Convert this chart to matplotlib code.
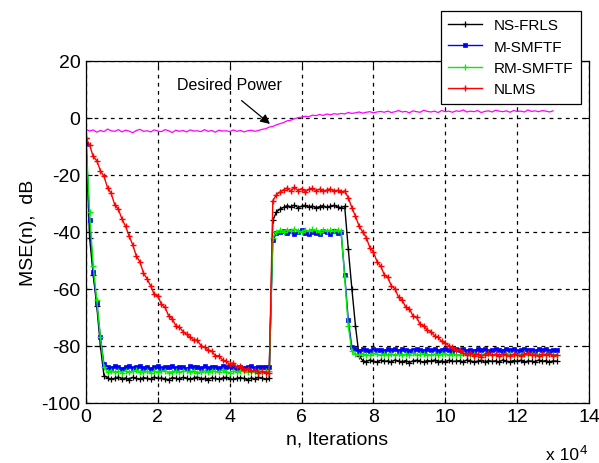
import numpy as np
import matplotlib
matplotlib.use("Agg")
import matplotlib.pyplot as plt
from matplotlib.lines import Line2D

plt.rcParams['font.family'] = ['Liberation Sans', 'DejaVu Sans']

# iterations (samples every 1000)
step = 1000

ns_frls = [-7, -42, -55, -66, -80, -90.5,
    -91.2, -91.8, -91.4, -91.0, -91.6, -91.3, -91.9, -91.1, -91.5, -91.7,
    -91.2, -91.4, -91.8, -91.0, -91.5, -91.3, -91.6, -91.9, -91.2, -91.4,
    -91.7, -91.1, -91.5, -91.8, -91.3, -91.0, -91.6, -91.4, -91.9, -91.2,
    -91.5, -91.7, -91.3, -91.1, -91.6, -91.8, -91.4, -91.2, -91.5, -91.9,
    -91.3, -91.6, -91.1, -91.4, -91.7, -91.5,
    -36, -33, -32,
    -31.4, -30.8, -31.2, -30.6, -31.5, -31.0, -30.7, -31.3, -30.9, -31.6,
    -31.1, -30.8, -31.4, -31.0, -30.7, -31.2, -31.5, -31.0,
    -46, -60, -73, -83.5,
    -85.2, -85.6, -85.0, -85.4, -85.8, -85.1, -85.5, -85.3, -85.7, -85.0,
    -85.4, -85.6, -85.2, -85.9, -85.3, -85.1, -85.5, -85.7, -85.2, -85.4,
    -85.0, -85.6, -85.3, -85.8, -85.1, -85.5, -85.4, -85.2, -85.7, -85.0,
    -85.3, -85.6, -85.4, -85.1, -85.8, -85.2, -85.5, -85.3, -85.7, -85.0,
    -85.4, -85.6, -85.2, -85.5, -85.1, -85.8, -85.3, -85.4, -85.6, -85.0,
    -85.5, -85.2, -85.7, -85.3, -85.4]

m_smftf = [-9, -36, -54, -65, -77, -86.5,
    -87.3, -87.9, -87.1, -87.6, -88.0, -87.4, -87.2, -87.8, -87.5, -87.0,
    -87.7, -87.3, -88.1, -87.5, -87.2, -87.9, -87.4, -87.6, -87.1, -87.8,
    -87.3, -87.5, -88.0, -87.2, -87.6, -87.4, -87.9, -87.1, -87.7, -87.3,
    -87.5, -87.8, -87.2, -87.6, -87.0, -87.4, -87.9, -87.3, -87.7, -87.5,
    -87.2, -87.8, -87.4, -87.6, -87.3, -87.5,
    -43, -40.5,
    -40.2, -39.6, -40.5, -39.8, -40.9, -40.1, -39.5, -40.4, -40.8, -39.9,
    -40.3, -40.7, -39.7, -40.2, -40.6, -39.8, -40.4, -40.1,
    -55, -71, -80.5,
    -81.3, -81.7, -81.1, -81.5, -81.9, -81.2, -81.6, -81.4, -81.8, -81.0,
    -81.5, -81.3, -81.7, -81.2, -81.6, -81.9, -81.4, -81.1, -81.5, -81.8,
    -81.3, -81.6, -81.2, -81.7, -81.4, -81.0, -81.5, -81.8, -81.3, -81.6,
    -81.2, -81.9, -81.4, -81.7, -81.1, -81.5, -81.3, -81.8, -81.6, -81.2,
    -81.4, -81.7, -81.0, -81.5, -81.3, -81.9, -81.6, -81.2, -81.5, -81.4,
    -81.8, -81.1, -81.6, -81.3, -81.7, -81.5, -81.4]

rm_smftf = [-7, -33, -52, -64, -77, -87.5,
    -89.1, -88.7, -89.3, -88.9, -89.4, -88.8, -89.2, -89.0, -88.6, -89.3,
    -89.1, -88.9, -89.5, -88.8, -89.2, -89.0, -88.7, -89.4, -89.1, -88.9,
    -89.3, -88.8, -89.0, -89.2, -88.7, -89.4, -89.1, -88.9, -89.3, -88.8,
    -89.0, -89.2, -88.6, -89.1, -89.4, -88.9, -89.2, -88.8, -89.0, -89.3,
    -88.9, -89.1, -88.7, -89.2, -89.0, -88.9,
    -42, -40,
    -39.4, -39.9, -39.2, -39.7, -39.0, -39.6, -40.0, -39.3, -39.8, -39.1,
    -39.5, -39.9, -39.2, -39.6, -39.4, -39.8, -39.3, -39.7,
    -56, -73, -82,
    -82.9, -83.2, -82.8, -83.1, -83.4, -82.7, -83.0, -83.3, -82.9, -83.1,
    -82.8, -83.2, -83.0, -83.4, -82.9, -83.1, -82.7, -83.3, -83.0, -82.8,
    -83.2, -83.1, -82.9, -83.4, -83.0, -82.8, -83.2, -82.9, -83.3, -83.1,
    -82.7, -83.0, -83.2, -82.9, -83.4, -83.1, -82.8, -83.0, -83.3, -82.9,
    -83.1, -83.2, -82.8, -83.0, -83.4, -82.9, -83.1, -82.7, -83.2, -83.0,
    -82.9, -83.3, -83.1, -82.8, -83.0, -83.2, -83.1]

nlms = [-7, -9.5, -13.5, -15, -18.5, -20.5, -24.5, -26.5, -30.5, -32,
    -35.5, -38, -41.5, -44.5, -48.5, -50.5, -54.5, -56.5, -59, -62,
    -62.5, -65.5, -66.5, -69.5, -70.5, -73, -73.5, -75, -76, -77,
    -78, -78, -80, -80.5, -81.5, -82, -83.5, -83.5, -85, -85.5,
    -86.5, -86, -87.5, -87, -88.5, -88, -89, -88.5, -89.5, -89,
    -89.5, -89.5,
    -29, -27, -26,
    -25.2, -24.6, -25.8, -24.3, -25.5, -24.8, -25.9, -25.1, -24.7, -25.6,
    -25.0, -25.8, -25.3, -24.9, -25.7, -25.4, -26.0, -25.6,
    -28, -31.5, -34.5, -38, -40, -42, -45.5, -47, -50.5, -52,
    -55, -56, -59, -60, -63, -64, -66.5, -67, -69.5, -70,
    -72.5, -73, -74.5, -75, -76.5, -77, -78.5, -79, -80, -80.5,
    -81.5, -81.5, -82.5,
    -83.2, -82.6, -83.5, -82.9, -83.8, -83.1, -82.7, -83.4, -83.0, -83.6,
    -82.8, -83.3, -83.7, -82.9, -83.2, -83.5, -83.0, -82.7, -83.4, -83.1,
    -83.6, -82.9, -83.3, -83.0, -83.5, -83.2]

desired = [-4.0, -4.6, -4.2, -5.0, -4.4, -4.8, -3.9, -4.5, -4.7, -4.1,
    -4.9, -4.3, -4.6, -5.2, -4.4, -4.0, -4.7, -4.5, -4.9, -4.2,
    -4.6, -4.8, -4.1, -4.5, -5.1, -4.3, -4.7, -4.4, -4.9, -4.2,
    -4.6, -4.5, -4.8, -4.1, -4.7, -4.4, -5.0, -4.3, -4.6, -4.5,
    -4.8, -4.2, -4.7, -4.4, -4.9, -4.5, -4.3, -4.7, -4.4,
    -4.0, -3.8, -3.2, -3.0, -2.4, -2.0, -1.6, -1.0, -0.8, -0.3, 0.1, 0.3,
    0.6, 0.4, 1.0, 0.8, 1.2, 0.9, 1.4, 1.1, 1.5, 1.3, 1.6, 1.4, 1.9, 1.6,
    1.8, 2.1, 1.7, 2.0, 2.2, 1.8, 2.1, 2.3,
    2.0, 2.4, 1.9, 2.2, 2.6, 2.1, 2.3, 1.8, 2.5, 2.2,
    2.0, 2.7, 2.3, 2.1, 2.4, 1.9, 2.6, 2.2, 2.4, 2.0,
    2.5, 2.3, 2.8, 2.1, 2.4, 2.2, 2.6, 1.9, 2.3, 2.5,
    2.1, 2.7, 2.4, 2.2, 2.5, 2.0, 2.6, 2.3, 2.4, 2.1,
    2.8, 2.3, 2.5, 2.2, 2.6, 2.4, 2.1, 2.5]

labels = ['NS-FRLS', 'M-SMFTF', 'RM-SMFTF', 'NLMS']
xticks = [0, 2, 4, 6, 8, 10, 12, 14]
yticks = [-100, -80, -60, -40, -20, 0, 20]

W, H = 599, 464
fig = plt.figure(figsize=(W / 100, H / 100), dpi=100)
ax = fig.add_axes([86 / W, (H - 403.7) / H, (589 - 86) / W, (403.7 - 62) / H])

n = np.arange(len(ns_frls)) * step
nd = np.arange(len(desired)) * step

ax.plot(n, ns_frls, color='black', lw=1.0, marker='+', ms=4, mew=0.9)
ax.plot(n, m_smftf, color='blue', lw=1.0, marker='s', ms=2.5, mew=0.5)
ax.plot(n, rm_smftf, color='#00ee00', lw=1.0, marker='+', ms=4, mew=0.9)
ax.plot(n, nlms, color='red', lw=1.0, marker='+', ms=5, mew=1.0)
ax.plot(nd, desired, color='magenta', lw=0.9)

ax.set_xlim(0, 140000)
ax.set_ylim(-100, 20)
ax.set_xticks([v * 10000 for v in xticks])
ax.set_xticklabels([str(v) for v in xticks])
ax.set_yticks(yticks)
ax.set_yticklabels([str(v) for v in yticks])
ax.tick_params(direction='in', length=4, width=0.8, labelsize=14,
               top=True, right=True, pad=4)
ax.grid(True, color='black', linestyle=(0, (3, 3.5)), linewidth=0.9)
for s in ax.spines.values():
    s.set_linewidth(0.9)

ax.set_xlabel('n, Iterations', fontsize=14, labelpad=4)
ax.set_ylabel('MSE(n),  dB', fontsize=14, labelpad=3)

ax.text(40000, 11.6, 'Desired Power', fontsize=11.5, ha='center', va='center')
ax.annotate('', xy=(51200, -2.1), xytext=(43300, 6.1),
            arrowprops=dict(arrowstyle='-|>', color='black', lw=0.9,
                            mutation_scale=14, shrinkA=0, shrinkB=0))

fig.text(546 / W, 1 - 460 / H, 'x 10', fontsize=12.5, ha='left', va='baseline')
fig.text(580 / W, 1 - 454 / H, '4', fontsize=9.5, ha='left', va='baseline')

handles = [
    Line2D([], [], color='black', lw=1.0, marker='+', ms=4, mew=0.9),
    Line2D([], [], color='blue', lw=1.0, marker='s', ms=2.5, mew=0.5),
    Line2D([], [], color='#00ee00', lw=1.0, marker='+', ms=4, mew=0.9),
    Line2D([], [], color='red', lw=1.0, marker='+', ms=5, mew=1.0),
]
leg = fig.legend(handles, labels, loc='upper left',
                 bbox_to_anchor=(440.7 / W, 1 - 11.7 / H),
                 bbox_transform=fig.transFigure, fontsize=11, numpoints=1,
                 frameon=True, fancybox=False, edgecolor='black', framealpha=1,
                 borderpad=0.5, labelspacing=0.48, handlelength=2.2,
                 handletextpad=0.75, borderaxespad=0)
leg.get_frame().set_linewidth(0.9)

fig.savefig('out.png', dpi=100, facecolor='white')
